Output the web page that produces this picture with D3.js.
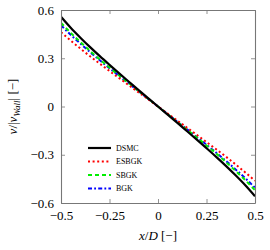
<!DOCTYPE html>
<html><head><meta charset="utf-8">
<script src="https://cdn.jsdelivr.net/npm/d3@7"></script>
<style>body{margin:0;background:#fff}svg{display:block} text{font-family:"Liberation Serif","Times New Roman",serif}</style>
</head><body>
<svg id="c" width="270" height="250"></svg>
<script>
const xs = [-0.5,-0.45,-0.4,-0.35,-0.3,-0.25,-0.2,-0.15,-0.1,-0.05,0,0.05,0.1,0.15,0.2,0.25,0.3,0.35,0.4,0.45,0.5];
const dsmc  = [0.558,0.490,0.428,0.369,0.313,0.259,0.206,0.154,0.102,0.051,0,-0.051,-0.102,-0.154,-0.206,-0.259,-0.313,-0.369,-0.428,-0.490,-0.558];
const esbgk = [0.462,0.410,0.360,0.312,0.266,0.221,0.176,0.132,0.088,0.044,0,-0.044,-0.088,-0.132,-0.176,-0.221,-0.266,-0.312,-0.360,-0.410,-0.462];
const sbgk  = [0.520,0.458,0.400,0.345,0.292,0.242,0.193,0.144,0.096,0.048,0,-0.048,-0.096,-0.144,-0.193,-0.242,-0.292,-0.345,-0.400,-0.458,-0.520];
const bgk   = [0.505,0.446,0.391,0.338,0.287,0.238,0.190,0.142,0.095,0.047,0,-0.047,-0.095,-0.142,-0.190,-0.238,-0.287,-0.338,-0.391,-0.446,-0.505];
const seriesNames = ["DSMC","ESBGK","SBGK","BGK"];
const xTicks = [-0.5,-0.25,0,0.25,0.5];
const xTickLabels = ["−0.5","−0.25","0","0.25","0.5"];
const yTicks = [0.6,0.3,0,-0.3,-0.6];
const yTickLabels = ["0.6","0.3","0","−0.3","−0.6"];

const series = [
  {name:seriesNames[0], vals:dsmc,  color:"#000", width:2.2, dash:null},
  {name:seriesNames[1], vals:esbgk, color:"#ff0000", width:2, dash:"2,2.6"},
  {name:seriesNames[2], vals:sbgk,  color:"#00ee00", width:2, dash:"4,3"},
  {name:seriesNames[3], vals:bgk,   color:"#0000ff", width:2, dash:"4,2.2,1.8,2.2"}
];

const L=61,R=255,T=10,B=203;
const x = d3.scaleLinear().domain([-0.5,0.5]).range([L,R]);
const y = d3.scaleLinear().domain([-0.6,0.6]).range([B,T]);
const svg = d3.select("#c");

const clip = svg.append("clipPath").attr("id","cp").append("rect").attr("x",L).attr("y",T).attr("width",R-L).attr("height",B-T);
const line = d3.line().x((d,i)=>x(xs[i])).y(d=>y(d)).curve(d3.curveMonotoneX);
series.slice().reverse().forEach(s=>{
  svg.append("path").attr("d",line(s.vals)).attr("fill","none")
    .attr("stroke",s.color).attr("stroke-width",s.width)
    .attr("stroke-dasharray",s.dash).attr("clip-path","url(#cp)");
});

const ax = "#777";
const gB = svg.append("g").attr("transform",`translate(0,${B})`)
  .call(d3.axisBottom(x).tickValues(xTicks).tickSizeInner(-4).tickSizeOuter(0).tickFormat((d,i)=>xTickLabels[i]).tickPadding(7));
const gT = svg.append("g").attr("transform",`translate(0,${T})`)
  .call(d3.axisTop(x).tickValues(xTicks).tickSizeInner(-4).tickSizeOuter(0).tickFormat(""));
const gL = svg.append("g").attr("transform",`translate(${L},0)`)
  .call(d3.axisLeft(y).tickValues(yTicks).tickSizeInner(-4).tickSizeOuter(0).tickFormat((d,i)=>yTickLabels[i]).tickPadding(7));
const gR = svg.append("g").attr("transform",`translate(${R},0)`)
  .call(d3.axisRight(y).tickValues(yTicks).tickSizeInner(-4).tickSizeOuter(0).tickFormat(""));
[gB,gT,gL,gR].forEach(g=>{
  g.attr("font-family",null).attr("font-size",null);
  g.selectAll("path").attr("stroke",ax).attr("stroke-width",1.1);
  g.selectAll("line").attr("stroke",ax).attr("stroke-width",0.8);
  g.selectAll("text").style("font-size","13px").attr("fill","#000");
});
gB.selectAll("text").attr("dy","0.75em");

const lg = svg.append("g");
const ly = [148,161.5,175,188.5];
series.forEach((s,i)=>{
  lg.append("line").attr("x1",88).attr("x2",111).attr("y1",ly[i]).attr("y2",ly[i])
    .attr("stroke",s.color).attr("stroke-width",s.width).attr("stroke-dasharray",s.dash);
  lg.append("text").attr("x",116).attr("y",ly[i]).attr("dy","0.35em")
    .style("font-size","8px").text(s.name);
});

const xl = svg.append("text").attr("x",(L+R)/2).attr("y",240).attr("text-anchor","middle")
  .style("font-size","13px");
xl.append("tspan").attr("font-style","italic").text("x");
xl.append("tspan").text("/");
xl.append("tspan").attr("font-style","italic").text("D");
xl.append("tspan").text(" [−]");

const yl = svg.append("text").attr("transform",`translate(17,${(T+B)/2}) rotate(-90)`).attr("text-anchor","middle")
  .style("font-size","13px");
yl.append("tspan").attr("font-style","italic").text("v");
yl.append("tspan").text("/|");
yl.append("tspan").attr("font-style","italic").text("v");
yl.append("tspan").attr("font-style","italic").style("font-size","9px").attr("dy",3).text("Wall");
yl.append("tspan").attr("dy",-3).text("| [−]");
</script>
</body></html>
